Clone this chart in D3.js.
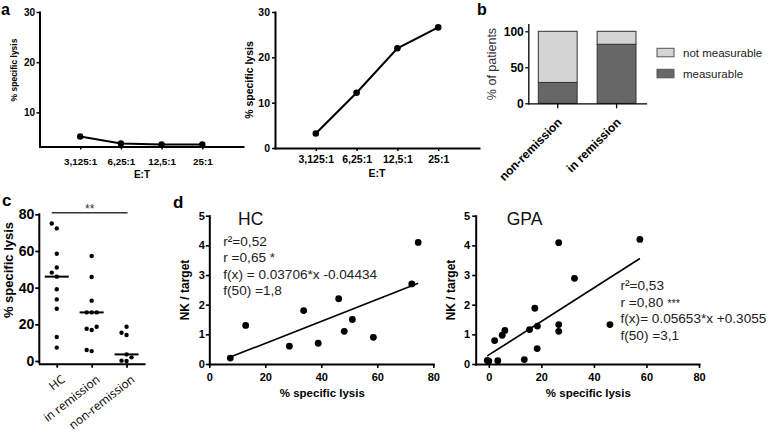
<!DOCTYPE html>
<html><head><meta charset="utf-8">
<script src="https://cdn.jsdelivr.net/npm/d3@7"></script>
<style>body{margin:0;background:#fff}svg{display:block}</style>
</head><body><svg id="chart" width="772" height="433"></svg>
<script>
// ---------------- data ----------------
const etRatios = ["3,125:1", "6,25:1", "12,5:1", "25:1"];
const lysisLow = [5.2, 3.8, 3.6, 3.6];
const lysisHigh = [3.2, 12.2, 22.0, 26.6];
const aLeftYDomain = [3.2, 30];
const aLeftYTicks = [10, 20, 30];
const aRightYTicks = [0, 10, 20, 30];

const bGroups = ["non-remission", "in remission"];
const bMeasurable = [29, 82];
const bNotMeasurable = [71, 18];
const bLegend = ["not measurable", "measurable"];
const bYTicks = [0, 50, 100];

const cGroups = ["HC", "in remission", "non-remission"];
const cHC = [75, 72.3, 58.5, 51, 48.2, 46, 39.1, 33.6, 28.5, 13.1, 7.3];
const cRemission = [57.3, 45.8, 32.9, 26.5, 26.5, 26.5, 18.7, 17.6, 16.9, 6.0, 5.4];
const cNonRemission = [18.7, 15.4, 14.2, 3.6, 2.0, 0.2, 0.0];
const cYTicks = [0, 20, 40, 60, 80];
const cSignif = "**";

const dHCx = [7.5, 13.0, 28.6, 33.7, 38.9, 46.2, 48.2, 51.1, 58.6, 72.3, 74.6];
const dHCy = [0.2, 1.3, 0.6, 1.8, 0.7, 2.2, 1.1, 1.5, 0.9, 2.7, 4.1];
const dGPAx = [-0.6, 0.0, 3.4, 2.2, 5.1, 6.1, 13.5, 15.5, 17.5, 18.5, 18.4, 26.6, 26.6, 26.6, 32.6, 46.1, 57.5];
const dGPAy = [0.12, 0.1, 0.11, 0.79, 0.97, 1.13, 0.15, 1.16, 1.88, 1.28, 0.52, 4.09, 1.33, 1.1, 2.89, 1.33, 4.2];
const hcFit = [0.03706, -0.04434];
const gpaFit = [0.05653, 0.3055];
const hcStats = ["r\u00b2=0,52", "r =0,65 *", "f(x) = 0.03706*x -0.04434", "f(50) =1,8"];
const gpaStats = ["r\u00b2=0,53", "r =0,80", "f(x)= 0.05653*x +0.3055", "f(50) =3,1"];
const gpaStars = "***";
const dXTicks = [0, 20, 40, 60, 80];
const dYTicks = [0, 1, 2, 3, 4, 5];

// ---------------- helpers ----------------
const FONT = '"Liberation Sans", Arial, Helvetica, sans-serif';
const svg = d3.select("#chart");
svg.append("rect").attr("width", 772).attr("height", 433).attr("fill", "#fff");

function label(x, y, s, size, weight = "normal", anchor = "start", rot = 0, family = FONT, fill = "#000") {
  const t = svg.append("text").attr("x", x).attr("y", y)
    .attr("font-size", size).attr("font-weight", weight)
    .attr("text-anchor", anchor).attr("font-family", family).attr("fill", fill).text(s);
  if (rot) t.attr("transform", `rotate(${rot},${x},${y})`);
  return t;
}
function styleAxis(g, o) {
  g.attr("font-family", o.ff || FONT).attr("font-size", o.fs).attr("font-weight", o.fw || "bold");
  g.select(".domain").attr("stroke", "#000").attr("stroke-width", o.lw).attr("stroke-linecap", "square");
  g.selectAll(".tick line").attr("stroke", "#000").attr("stroke-width", o.tw);
  g.selectAll(".tick text").attr("fill", "#000");
  if (o.noDomain) g.select(".domain").remove();
}

// panel letters
label(1, 14.5, "a", 16, "bold");
label(477, 14.5, "b", 16, "bold");
label(2, 206, "c", 17, "bold");
label(173, 207.5, "d", 17, "bold");

// ---------------- panel a (left) ----------------
(function () {
  const x = d3.scaleLinear().domain([0, etRatios.length + 1]).range([39.5, 243]);
  const y = d3.scaleLinear().domain(aLeftYDomain).range([146.5, 12]);
  const gy = svg.append("g").attr("transform", `translate(${x(0)},0)`)
    .call(d3.axisLeft(y).tickValues(aLeftYTicks).tickSize(3).tickSizeOuter(0).tickPadding(1.5));
  styleAxis(gy, { fs: 10, lw: 2, tw: 1.5 });
  const gx = svg.append("g").attr("transform", `translate(0,${y(aLeftYDomain[0])})`)
    .call(d3.axisBottom(x).tickValues(d3.range(1, etRatios.length + 1)).tickFormat(i => etRatios[i - 1])
      .tickSize(3).tickSizeOuter(0).tickPadding(9));
  styleAxis(gx, { fs: 9.8, lw: 2, tw: 1.5 });
  const line = d3.line().x((d, i) => x(i + 1)).y(d => y(d));
  svg.append("path").datum(lysisLow).attr("d", line).attr("fill", "none").attr("stroke", "#000").attr("stroke-width", 2);
  svg.selectAll(null).data(lysisLow).join("circle").attr("cx", (d, i) => x(i + 1)).attr("cy", d => y(d)).attr("r", 3.2).attr("fill", "#000");
  label(142, 177.5, "E:T", 10, "bold", "middle");
  label(17, 70, "% specific lysis", 8.5, "bold", "middle", -90);
})();

// ---------------- panel a (right) ----------------
(function () {
  const x = d3.scaleLinear().domain([0, etRatios.length + 1]).range([275, 479]);
  const y = d3.scaleLinear().domain([0, 30]).range([148, 12]);
  const gy = svg.append("g").attr("transform", `translate(${x(0)},0)`)
    .call(d3.axisLeft(y).tickValues(aRightYTicks).tickSize(3).tickSizeOuter(0).tickPadding(2));
  styleAxis(gy, { fs: 10.5, lw: 2, tw: 1.5 });
  const gx = svg.append("g").attr("transform", `translate(0,${y(0)})`)
    .call(d3.axisBottom(x).tickValues(d3.range(1, etRatios.length + 1)).tickFormat(i => etRatios[i - 1])
      .tickSize(3).tickSizeOuter(0).tickPadding(5));
  styleAxis(gx, { fs: 10.5, lw: 2, tw: 1.5 });
  const line = d3.line().x((d, i) => x(i + 1)).y(d => y(d));
  svg.append("path").datum(lysisHigh).attr("d", line).attr("fill", "none").attr("stroke", "#000").attr("stroke-width", 2);
  svg.selectAll(null).data(lysisHigh).join("circle").attr("cx", (d, i) => x(i + 1)).attr("cy", d => y(d)).attr("r", 3.3).attr("fill", "#000");
  label(377, 177.3, "E:T", 10.5, "bold", "middle");
  label(253, 80, "% specific lysis", 10.5, "bold", "middle", -90);
})();

// ---------------- panel b ----------------
(function () {
  const x = d3.scaleBand().domain(bGroups).range([528.3, 646]).paddingInner(0.34).paddingOuter(0.17);
  const y = d3.scaleLinear().domain([0, 110]).range([103.3, 24.1]);
  const colMeas = "#676767", colNot = "#d4d4d4";
  bGroups.forEach((g, i) => {
    svg.append("rect").attr("x", x(g)).attr("width", x.bandwidth())
      .attr("y", y(bMeasurable[i])).attr("height", y(0) - y(bMeasurable[i]))
      .attr("fill", colMeas).attr("stroke", "#333").attr("stroke-width", 1);
    svg.append("rect").attr("x", x(g)).attr("width", x.bandwidth())
      .attr("y", y(bMeasurable[i] + bNotMeasurable[i])).attr("height", y(bMeasurable[i]) - y(bMeasurable[i] + bNotMeasurable[i]))
      .attr("fill", colNot).attr("stroke", "#333").attr("stroke-width", 1);
  });
  const gy = svg.append("g").attr("transform", `translate(${x.range()[0]},0)`)
    .call(d3.axisLeft(y).tickValues(bYTicks).tickSize(3).tickSizeOuter(0).tickPadding(1.5));
  styleAxis(gy, { fs: 12, lw: 1.3, tw: 1.3 });
  const gx = svg.append("g").attr("transform", `translate(0,${y(0)})`)
    .call(d3.axisBottom(x).tickSize(5).tickSizeOuter(0).tickFormat(""));
  styleAxis(gx, { fs: 12, lw: 1.3, tw: 1.3 });
  bGroups.forEach(g => {
    const cx = x(g) + x.bandwidth() / 2;
    label(cx + 5, 123, g, 12, "bold", "end", -45);
  });
  label(496, 64, "% of patients", 12.5, "normal", "middle", -90, FONT, "#333");
  [colNot, colMeas].forEach((c, i) => {
    svg.append("rect").attr("x", 657).attr("y", 48.3 + i * 21).attr("width", 17).attr("height", 8.5)
      .attr("fill", c).attr("stroke", "#555").attr("stroke-width", 1);
    label(683, 56.8 + i * 21, bLegend[i], 11.5, "normal", "start", 0, FONT, "#222");
  });
})();

// ---------------- panel c ----------------
(function () {
  const x = d3.scalePoint().domain(cGroups).range([39.3, 144]).padding(0.5);
  const y = d3.scaleLinear().domain([0, 80]).range([361, 214.3]);
  const xAxisY = y(0) + 2.7;
  const gy = svg.append("g").attr("transform", `translate(${x.range()[0]},0)`)
    .call(d3.axisLeft(y).tickValues(cYTicks).tickSize(4).tickSizeOuter(0).tickPadding(1));
  styleAxis(gy, { fs: 14, lw: 2, tw: 1.8, noDomain: true });
  svg.append("line").attr("x1", x.range()[0]).attr("x2", x.range()[0]).attr("y1", y(80) - 1).attr("y2", xAxisY)
    .attr("stroke", "#000").attr("stroke-width", 2);
  const gx = svg.append("g").attr("transform", `translate(0,${xAxisY})`)
    .call(d3.axisBottom(x).tickSize(4).tickSizeOuter(0).tickFormat(""));
  styleAxis(gx, { fs: 12, lw: 2, tw: 1.8 });
  cGroups.forEach(g => label(x(g) + 9, 381, g, 11.8, "normal", "end", -38, '"Open Sans", "Liberation Sans", Arial, sans-serif'));

  function swarm(vals, d, thr) {
    const order = vals.map((v, i) => i).sort((a, b) => vals[a] - vals[b]);
    const off = new Array(vals.length), placed = [];
    for (const i of order) {
      const py = y(vals[i]);
      for (const k of [0, -1, 1, -2, 2]) {
        const px = k * d;
        if (placed.every(p => Math.hypot(p[0] - px, p[1] - py) >= thr)) { off[i] = px; placed.push([px, py]); break; }
      }
    }
    return off;
  }
  [cHC, cRemission, cNonRemission].forEach((vals, gi) => {
    const cx = x(cGroups[gi]);
    const off = swarm(vals, 5, 5);
    svg.selectAll(null).data(vals).join("circle")
      .attr("cx", (d, i) => cx + off[i]).attr("cy", d => y(d)).attr("r", 2.2).attr("fill", "#000");
    const m = d3.median(vals);
    svg.append("line").attr("x1", cx - 12).attr("x2", cx + 12).attr("y1", y(m)).attr("y2", y(m))
      .attr("stroke", "#000").attr("stroke-width", 2);
  });
  svg.append("line").attr("x1", x(cGroups[0]) - 5).attr("x2", x(cGroups[2]) + 1)
    .attr("y1", 212.7).attr("y2", 212.7).attr("stroke", "#333").attr("stroke-width", 1.5);
  label((x(cGroups[0]) + x(cGroups[2])) / 2 - 2, 213, cSignif, 12, "normal", "middle", 0, FONT, "#333");
  label(12.5, 270, "% specific lysis", 13, "bold", "middle", -90);
})();

// ---------------- panel d ----------------
function scatterPanel(xs, ys, fit, xDom, xRange, yl, title, titleX, stats, statsX, statsY, yLabPad, stars) {
  const x = d3.scaleLinear().domain(xDom).range(xRange);
  const y = d3.scaleLinear().domain([0, 5]).range([364, 215.7]);
  const gy = svg.append("g").attr("transform", `translate(${xRange[0]},0)`)
    .call(d3.axisLeft(y).tickValues(dYTicks).tickFormat(d3.format("d")).tickSize(3.5).tickSizeOuter(0).tickPadding(yLabPad));
  styleAxis(gy, { fs: 11, lw: 2, tw: 1.6 });
  const gx = svg.append("g").attr("transform", `translate(0,${y(0)})`)
    .call(d3.axisBottom(x).tickValues(dXTicks).tickFormat(d3.format("d")).tickSize(4).tickSizeOuter(0).tickPadding(4.8));
  styleAxis(gx, { fs: 11, lw: 2, tw: 1.6 });
  const [lo, hi] = d3.extent(xs);
  svg.append("line").attr("x1", x(lo)).attr("x2", x(hi))
    .attr("y1", y(fit[0] * lo + fit[1])).attr("y2", y(fit[0] * hi + fit[1]))
    .attr("stroke", "#000").attr("stroke-width", 1.6);
  svg.selectAll(null).data(xs).join("circle")
    .attr("cx", d => x(d)).attr("cy", (d, i) => y(ys[i])).attr("r", 3.4).attr("fill", "#000");
  label((xRange[0] + xRange[1]) / 2 + 1, 396.5, "% specific lysis", 11.5, "bold", "middle");
  label(yl, 290, "NK / target", 12, "bold", "middle", -90);
  label(titleX, 224.5, title, 17.5, "normal", "start", 0, FONT, "#111");
  stats.forEach((s, i) => {
    const t = label(statsX, statsY + i * 16.5, s, 13.6, "normal", "start", 0, FONT, "#222");
    if (i === 1 && stars) t.append("tspan").attr("font-size", 11).attr("dx", 4).text(stars);
  });
}
scatterPanel(dHCx, dHCy, hcFit, [0, 80], [209.3, 433.3], 188.7, "HC", 238, hcStats, 223.3, 245.7, 1, null);
scatterPanel(dGPAx, dGPAy, gpaFit, [-5, 80], [475.7, 699], 455, "GPA", 506.7, gpaStats, 620.5, 290.3, 2, gpaStars);
</script>
</body></html>
